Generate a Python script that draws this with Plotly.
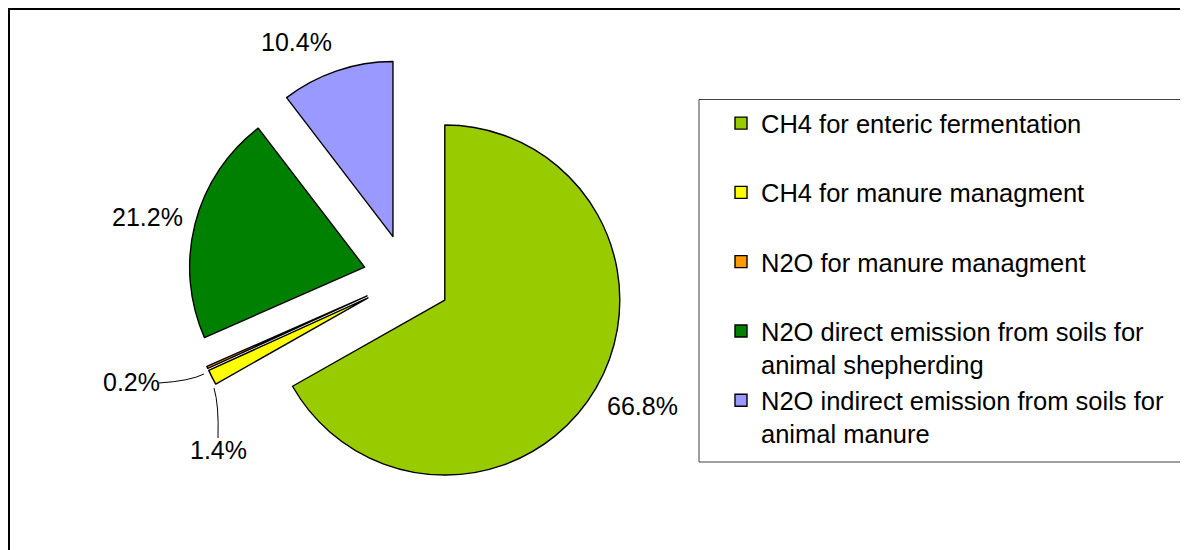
import plotly.graph_objects as go

labels = [
    "CH4 for enteric fermentation",
    "CH4 for manure managment",
    "N2O for manure managment",
    "N2O direct emission from soils for<br>animal shepherding",
    "N2O indirect emission from soils for<br>animal manure",
]
values = [66.8, 1.4, 0.2, 21.2, 10.4]
colors = ["#99CC00", "#FFFF00", "#FF9900", "#008000", "#9999FF"]

W, H = 1188, 550
# the page body has an 8px margin, positions below are screen pixels
OX, OY = 8, 8


def xp(px):
    return (px - OX) / W


def yp(py):
    return 1 - (py - OY) / H


# pad single-line entries so every legend item has the same height
legend_labels = [l if "<br>" in l else l + "<br> " for l in labels]

fig = go.Figure()
fig.add_trace(go.Pie(
    labels=legend_labels,
    values=values,
    sort=False,
    direction="clockwise",
    rotation=0,
    pull=0.25,
    marker=dict(colors=colors, line=dict(color="black", width=1.4)),
    textinfo="none",
    domain=dict(x=[xp(188.25), xp(625.75)], y=[yp(496.75), yp(59.25)]),
    hoverinfo="label+percent",
))

# percentage labels, placed like the original chart
label_pos = [(642.5, 406.5), (218, 450), (131, 382), (147.5, 216.5), (296, 41.5)]
for v, (lx, ly) in zip(values, label_pos):
    fig.add_annotation(x=xp(lx), y=yp(ly), xref="paper", yref="paper",
                       text=f"{v:.1f}%", showarrow=False,
                       xanchor="center", yanchor="middle",
                       font=dict(size=25, color="black"))


def path(points):
    (x0, y0), (cx, cy), (x1, y1) = points
    return (f"M{xp(x0)},{yp(y0)} Q{xp(cx)},{yp(cy)} {xp(x1)},{yp(y1)}")


# leader lines for the two thin slices
fig.add_shape(type="path", xref="paper", yref="paper",
              path=path([(159, 383), (190, 381), (204, 374)]),
              line=dict(color="black", width=1))
fig.add_shape(type="path", xref="paper", yref="paper",
              path=path([(214, 388), (219, 405), (218, 438)]),
              line=dict(color="black", width=1))

# chart area frame (only top and left edges fall inside the picture)
fig.add_shape(type="rect", xref="paper", yref="paper",
              x0=xp(9), x1=1.02, y0=-0.05, y1=yp(9),
              line=dict(color="black", width=2))
# legend frame
fig.add_shape(type="rect", xref="paper", yref="paper",
              x0=xp(699), x1=xp(1187), y0=yp(462), y1=yp(99.5),
              line=dict(color="#404040", width=1))

fig.update_layout(
    width=W, height=H,
    margin=dict(l=0, r=0, t=0, b=0, autoexpand=False),
    paper_bgcolor="white",
    plot_bgcolor="white",
    font=dict(family="Liberation Sans, Arial, sans-serif", color="black"),
    legend=dict(
        x=xp(721), y=yp(100), xanchor="left", yanchor="top",
        font=dict(size=25.5, color="black"),
        borderwidth=0, bgcolor="rgba(0,0,0,0)",
        valign="top",
        itemwidth=30,
    ),
)

fig.write_html("out.html")
